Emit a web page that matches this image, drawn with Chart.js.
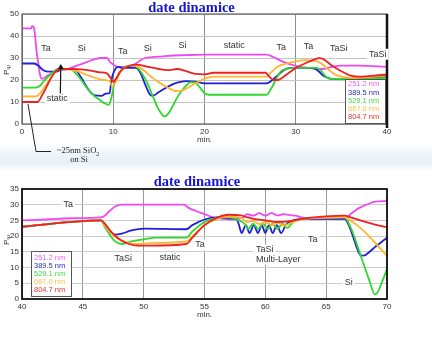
<!DOCTYPE html>
<html><head><meta charset="utf-8">
<script src="https://cdn.jsdelivr.net/npm/chart.js@4/dist/chart.umd.min.js"></script>
<style>
html,body{margin:0;padding:0;background:#fff;}
#wrap{position:relative;width:432px;height:353px;overflow:hidden;background:#fff;}
#band{position:absolute;left:0;top:143px;width:432px;height:28px;background:linear-gradient(to bottom, rgba(255,255,255,0), #eef5fb 40%, #e7f1f9 70%, rgba(255,255,255,0));}
#c1{position:absolute;left:0;top:0;}
#c2{position:absolute;left:0;top:170px;}
</style></head><body>
<div id="wrap"><div id="band"></div>
<canvas id="c1" width="432" height="170"></canvas>
<canvas id="c2" width="432" height="183"></canvas>
</div>
<script>
// ---------- DATA ----------
const chartTitle = 'date dinamice';
const seriesNames = ['251.2 nm','389.5 nm','529.1 nm','667.0 nm','804.7 nm'];
const lineColors = ['#f048f0','#1f1fd6','#2ed82e','#ffb52e','#ee2020'];
const legendColors = ['#f060f0','#2a2ad0','#40dc40','#ffc050','#e83030'];

const topXTicks = [0,10,20,30,40];
const topYTicks = [0,10,20,30,40,50];
const botXTicks = [40,45,50,55,60,65,70];
const botYTicks = [0,5,10,15,20,25,30,35];

// top chart: [min, P]
const top251 = [[0,43.5],[1,43.5],[1.1,44.5],[1.3,44],[1.6,33],[2,22],[2.2,20.5],[2.6,21.5],[3,22.5],[3.5,23.5],[4,24.5],[5,25],[6,26.5],[7,28],[8,29.5],[8.7,30],[9.3,30],[9.7,28],[10,27],[10.5,26],[11,26],[12,26.5],[12.5,27.5],[13,29],[13.5,30],[14,30.3],[15,30.6],[16,31],[18,31.3],[20,31.5],[26.8,31.5],[27.5,30.5],[28.5,28.5],[29.5,27],[30.5,26],[31.5,25.5],[32.5,25],[33,25],[33.5,25.5],[34,26],[35,26.5],[37,26.5],[40,26]];
const top389 = [[0,27.5],[1.3,27.5],[1.8,26.5],[2.3,24.5],[2.8,23.8],[3.8,23.8],[4.3,24.8],[5.5,25],[6,24],[6.5,21],[7,17.5],[7.5,14.5],[8,13],[8.7,12.8],[9.2,13.8],[9.6,14],[9.8,20],[10.1,24],[10.5,26],[11,25.5],[12.5,25.5],[13,23],[13.5,18],[14,13.5],[14.3,12.8],[15,14.5],[16,17],[17,18.8],[18,19.5],[19,19.3],[20,18.5],[26.8,18.5],[27.3,19.5],[28,22],[28.7,24.5],[29.5,25.5],[31.5,25.5],[32,25.3],[32.5,24],[33,22],[33.5,21],[34,20.5],[36,20.5],[40,21.5]];
const top529 = [[0,16.5],[1.5,16.5],[2,17.5],[2.5,20],[3,22],[3.5,24],[4,25],[5,25],[5.5,24.5],[6,22.5],[6.5,20],[7,17],[7.5,14.5],[8,12.5],[8.5,11],[9,9.5],[9.5,8.7],[9.8,12],[10.1,18],[10.5,22],[11,25],[11.5,26.3],[12.3,26.5],[12.8,25],[13.3,22],[13.8,18],[14.3,13],[14.8,8],[15.3,4.5],[15.6,3.5],[16,4.5],[16.5,8],[17,12],[17.5,15],[18,17.5],[18.5,19],[19,18.8],[19.5,16.5],[20,14],[20.5,13.3],[26.8,13.3],[27.3,16],[27.8,20],[28.4,24],[29,25],[30,25.5],[32.3,25.5],[32.8,24],[33.3,21.5],[33.8,20.5],[36,20.5],[40,21]];
const top667 = [[0,12.5],[1.5,12.5],[2,14],[2.5,17],[3,20],[3.5,23],[4,24.8],[5,25],[6,24],[7,22.5],[8,21],[9,20],[9.6,19.5],[9.9,17],[10.2,18.5],[10.7,23],[11.2,25.5],[12,26.5],[12.7,26],[13.5,24],[14,22],[15,19],[16,16.5],[16.8,15],[17.5,15.2],[18,16],[19,18.5],[20,20.5],[21,21.5],[26.8,21.5],[27.3,23.5],[28,26],[29,27.5],[30,28.5],[31,29],[32,28.8],[32.8,27.5],[33.5,25],[34.3,22.5],[35,21.5],[36,21],[40,22]];
const top804 = [[0,10],[1.7,10],[2.2,13],[2.7,17],[3.2,21],[3.7,24],[4.2,25],[5.5,25],[6.5,24.8],[7.5,24.3],[8.5,23.5],[9.3,23],[9.7,21],[10,19.2],[10.3,20.5],[10.8,24],[11.5,26],[12.5,27],[13,26.8],[14,25.8],[15,25],[16,24.5],[17,25],[18,24],[19,22.8],[20,22.6],[21,23.3],[26.7,23.3],[27.1,21.5],[27.6,20],[28,20],[29,22.5],[30,25.5],[31,27.5],[32,29.3],[32.6,29.9],[33,29.5],[34,26.5],[35,24],[36,22],[37,21.5],[38,21.8],[40,22.5]];

// bottom chart
const bot251 = [[40,25],[42,25.3],[44,25.7],[46.5,26],[46.8,26.5],[47.2,28],[47.7,29.5],[48.3,30],[53.3,30],[53.7,29],[54.3,28],[55,27],[55.7,26],[56.5,25.5],[57.5,25.3],[58.2,26],[58.5,27],[59,26.5],[59.5,27.3],[60,26.5],[60.5,27.3],[61,26.6],[61.5,27],[62,26.7],[62.5,26.5],[63,26],[64,25.5],[66.5,25.5],[67,27],[67.5,28.5],[68,29.5],[68.5,30.3],[69,31],[70,31.2]];
const bot389 = [[40,23],[46.5,25],[46.8,23.5],[47.2,21.5],[47.6,20.5],[48.2,20.8],[49,21.8],[50,22.4],[53.5,22.2],[54,23.5],[55,25.3],[56,26],[57,25.7],[57.6,25.5],[57.8,24],[58.05,21],[58.4,23.5],[58.7,21],[59.05,23.5],[59.4,21],[59.7,23.5],[60,21],[60.3,23.5],[60.6,21],[60.95,23.5],[61.3,21],[61.7,23.7],[62.3,25],[63,25.5],[66.5,25.5],[66.8,24],[67.2,20],[67.5,16.5],[67.8,14],[68.1,13.8],[68.5,14.8],[69,16.5],[69.5,18],[70,19.5]];
const bot529 = [[40,23],[46.5,25],[46.8,23],[47.2,20.5],[47.6,18.5],[48.2,17.5],[49,18.3],[50,19],[51,19.5],[53.5,19.5],[54,21.5],[55,24.5],[56,25.8],[57,26],[57.8,25],[58.3,24],[58.6,22.3],[59,24],[59.4,22.3],[59.8,24],[60.2,22.3],[60.6,24],[61,22.3],[61.4,24],[61.8,22.6],[62.3,24.5],[63,25.5],[64,25.8],[66.5,26],[66.8,24.5],[67.2,21],[67.6,16.5],[68,12],[68.5,6.5],[69,1.5],[69.2,2],[69.6,5.5],[70,9.5]];
const bot667 = [[40,23],[46.5,25],[46.8,23.5],[47.3,21],[48,19],[48.8,17.8],[49.5,17.5],[50.5,17.8],[53.5,18.3],[54,20],[55,23.5],[56,25.5],[57,26.2],[58,25.8],[58.5,24.5],[59,24.8],[59.5,23.8],[60,24.5],[60.5,23.5],[61,24.3],[61.5,23.3],[62,24],[62.5,24.8],[63,25.5],[66.5,26],[67,25],[68,22],[69,18],[70,13.7]];
const bot804 = [[40,23],[46.5,25],[46.8,24],[47.3,21.5],[48,19],[48.8,17.5],[49.5,17],[50.5,17],[53.5,17.5],[54,19.5],[55,23.5],[56,25.8],[57,26.8],[58,26.6],[58.5,26],[59,25.5],[60,25],[61,24.5],[62,24.8],[63,25.5],[64,26],[66.5,26.5],[67,26],[68,24.8],[69,23.7],[70,22.8]];

// annotations: [text, x, y, align]
const topNotes = [['Ta',2.63,34.1],['Si',6.54,34.5],['Ta',11.04,32.9],['Si',13.78,34.5],['Si',17.6,35.9],['static',23.27,35.9],['Ta',28.4,34.9],['Ta',31.4,35.1],['TaSi',34.7,34.4],['TaSi',38.98,31.7],['static',3.87,11.4]];
const botNotes = [['Ta',43.8,30.2],['TaSi',48.33,13.0],['static',52.16,13.2],['Ta',54.63,17.2],['TaSi',59.23,15.65,'left'],['Multi-Layer',59.23,12.7,'left'],['Ta',63.9,19.0],['Si',66.85,5.3]];
const calloutText = ['~25nm SiO','2','on Si'];

// ---------- RENDER ----------
const SANS = '"Liberation Sans", Arial, sans-serif';
const SERIF = '"Liberation Serif", "Times New Roman", serif';

function drawNote(ctx, text, px, py, align){
  ctx.font = '9px ' + SANS;
  const w = ctx.measureText(text).width;
  const lx = align === 'left' ? px : px - w/2;
  ctx.fillStyle = '#fff';
  ctx.fillRect(lx - 2, py - 5.5, w + 4, 11);
  ctx.fillStyle = '#333';
  ctx.textAlign = 'left'; ctx.textBaseline = 'middle';
  ctx.fillText(text, lx, py);
}

function makeDecor(cfg){
  return {
    id: 'decor',
    afterDraw(chart){
      const ctx = chart.ctx, a = chart.chartArea, xs = chart.scales.x, ys = chart.scales.y;
      ctx.save();
      ctx.strokeStyle = cfg.frameColor; ctx.lineWidth = cfg.frameWidth;
      ctx.strokeRect(a.left, a.top, a.right - a.left, a.bottom - a.top);
      if (cfg.rightWidth){
        ctx.strokeStyle = '#111'; ctx.lineWidth = cfg.rightWidth;
        ctx.beginPath(); ctx.moveTo(a.right, a.top); ctx.lineTo(a.right, a.bottom + 4); ctx.stroke();
      }
      if (cfg.arrow){
        const [x0,y0,x1,y1] = cfg.arrow;
        const p0x = xs.getPixelForValue(x0), p0y = ys.getPixelForValue(y0);
        const p1x = xs.getPixelForValue(x1), p1y = ys.getPixelForValue(y1);
        ctx.strokeStyle = '#111'; ctx.lineWidth = 1.2;
        ctx.beginPath(); ctx.moveTo(p0x,p0y); ctx.lineTo(p1x,p1y+3); ctx.stroke();
        ctx.fillStyle = '#111';
        ctx.beginPath(); ctx.moveTo(p1x,p1y); ctx.lineTo(p1x-3,p1y+5); ctx.lineTo(p1x+3,p1y+5); ctx.closePath(); ctx.fill();
      }
      cfg.notes.forEach(n => drawNote(ctx, n[0], xs.getPixelForValue(n[1]), ys.getPixelForValue(n[2]), n[3]));
      const L = cfg.legend;
      const lx = L.x, ly = L.y;
      ctx.fillStyle = '#fff'; ctx.fillRect(lx, ly, L.w, L.h);
      ctx.strokeStyle = '#555'; ctx.lineWidth = 1;
      ctx.strokeRect(lx + 0.5, ly + 0.5, L.w, L.h);
      ctx.font = '7.5px ' + SANS; ctx.textAlign = 'left'; ctx.textBaseline = 'middle';
      seriesNames.forEach((s,i) => { ctx.fillStyle = legendColors[i]; ctx.fillText(s, lx + 3, ly + L.first + i*L.step); });
      ctx.save();
      ctx.translate(7, cfg.yTitleY); ctx.rotate(-Math.PI/2);
      ctx.fillStyle = '#333'; ctx.font = '8px ' + SANS; ctx.textAlign = 'left'; ctx.textBaseline = 'middle';
      ctx.fillText('P', -5, 0);
      const pw = ctx.measureText('P').width;
      ctx.font = '6px ' + SANS; ctx.fillText('Ψ', -5 + pw, 2);
      ctx.restore();
      ctx.font = 'bold 14.5px ' + SERIF; ctx.fillStyle = '#1414d2';
      ctx.textAlign = 'center'; ctx.textBaseline = 'middle';
      ctx.fillText(chartTitle, cfg.titleX, cfg.titleY);
      if (cfg.callout){
        ctx.strokeStyle = '#222'; ctx.lineWidth = 1;
        ctx.beginPath(); ctx.moveTo(28, 104); ctx.lineTo(36, 151.5); ctx.lineTo(51, 151.5); ctx.stroke();
        ctx.fillStyle = '#222'; ctx.textAlign = 'left'; ctx.textBaseline = 'middle';
        ctx.font = '8.5px ' + SERIF;
        ctx.fillText(calloutText[0], 57, 151);
        const w0 = ctx.measureText(calloutText[0]).width;
        ctx.font = '6px ' + SERIF; ctx.fillText(calloutText[1], 57 + w0, 154);
        ctx.font = '8.5px ' + SERIF; ctx.textAlign = 'center';
        ctx.fillText(calloutText[2], 79, 160);
      }
      ctx.restore();
    }
  };
}

function buildDatasets(arrs){
  return arrs.map((d,i) => ({
    label: seriesNames[i],
    data: d.map(p => ({x:p[0], y:p[1]})),
    borderColor: lineColors[i],
    borderWidth: 1.8,
    pointRadius: 0,
    fill: false,
    cubicInterpolationMode: 'monotone',
    order: 4 - i
  }));
}

function scaleOpts(xmin,xmax,ymin,ymax,xt,yt,vGrid,hGrid,xh){
  const tickFont = {family: SANS, size: 8};
  return {
    x: {
      type: 'linear', min: xmin, max: xmax,
      afterBuildTicks(s){ s.ticks = xt.map(v => ({value:v})); },
      afterFit(s){ s.height = xh; },
      ticks: {font: tickFont, color: '#333', padding: 3, autoSkip: false, maxRotation: 0},
      grid: {color: vGrid, lineWidth: 1, drawTicks: false},
      border: {display: false},
      title: {display: true, text: 'min.', font: tickFont, color: '#333', padding: {top:0, bottom:3}}
    },
    y: {
      min: ymin, max: ymax,
      afterBuildTicks(s){ s.ticks = yt.map(v => ({value:v})); },
      afterFit(s){ s.width = 22; },
      ticks: {font: tickFont, color: '#333', padding: 3, autoSkip: false},
      grid: {color: hGrid, lineWidth: 1, drawTicks: false},
      border: {display: false}
    }
  };
}

Chart.defaults.animation = false;

new Chart(document.getElementById('c1'), {
  type: 'line',
  data: {datasets: buildDatasets([top251, top389, top529, top667, top804])},
  options: {
    responsive: false, devicePixelRatio: 1, animation: false,
    layout: {padding: {left: 0, right: 45, top: 14, bottom: 22}},
    plugins: {legend: {display: false}, tooltip: {enabled: false}, title: {display: false}},
    scales: scaleOpts(0,40,0,50,topXTicks,topYTicks,'#8c8c8c','#c4c4c4',24)
  },
  plugins: [makeDecor({
    frameColor: '#444', frameWidth: 1, rightWidth: 2.5,
    arrow: [4.2, 13.6, 4.25, 27.3],
    notes: topNotes,
    legend: {x: 345, y: 79, w: 40, h: 44, first: 5.3, step: 8.25},
    yTitleY: 70, titleX: 191.5, titleY: 8.5, callout: true
  })]
});

new Chart(document.getElementById('c2'), {
  type: 'line',
  data: {datasets: buildDatasets([bot251, bot389, bot529, bot667, bot804])},
  options: {
    responsive: false, devicePixelRatio: 1, animation: false,
    layout: {padding: {left: 0, right: 45, top: 19, bottom: 30}},
    plugins: {legend: {display: false}, tooltip: {enabled: false}, title: {display: false}},
    scales: scaleOpts(40,70,0,35,botXTicks,botYTicks,'#9a9a9a','#cccccc',24)
  },
  plugins: [makeDecor({
    frameColor: '#111', frameWidth: 1.8, rightWidth: 0,
    arrow: null,
    notes: botNotes,
    legend: {x: 31, y: 81, w: 40, h: 45, first: 6.5, step: 8.1},
    yTitleY: 70, titleX: 197, titleY: 12.5, callout: false
  })]
});
</script></body></html>
